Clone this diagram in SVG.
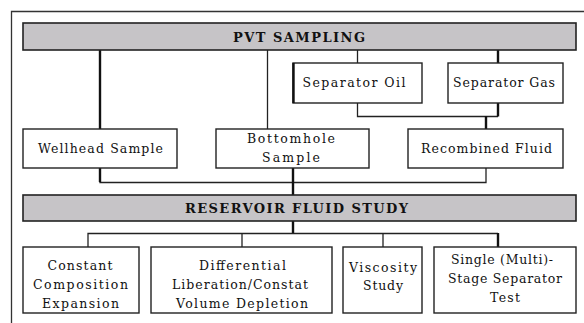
<svg xmlns="http://www.w3.org/2000/svg" width="584" height="323" viewBox="0 0 584 323">
<style>
.box{fill:#fff;stroke:#222;stroke-width:1.4}
.bar{fill:#c6c4c7;stroke:#222;stroke-width:1.6}
.t{font-family:'DejaVu Serif',serif;font-size:12.5px;fill:#111;text-anchor:middle}
.h{font-family:'DejaVu Serif',serif;font-size:13px;font-weight:bold;fill:#111;text-anchor:middle}
.c{fill:none;stroke:#222;stroke-width:1.3}
.k{fill:none;stroke:#111;stroke-width:2.4}
</style>
<rect width="584" height="323" fill="#fff"/>
<path d="M11.5 323V11.5H584" fill="none" stroke="#333" stroke-width="1.3"/>
<g id="connectors">
<path class="k" d="M100 50V129"/>
<path class="c" d="M267.5 50V129"/>
<path class="c" d="M357.5 50V63"/>
<path class="k" d="M498 50V63"/>
<path class="c" d="M357.5 103V116.5H498"/>
<path class="k" d="M498 103V116.5"/>
<path class="k" d="M486 116V129"/>
<path class="c" d="M100 168V182.5H486V168"/>
<path class="k" d="M100 168V182"/>
<path class="k" d="M293 168V195"/>
<path class="k" d="M293 221V234"/>
<path class="c" d="M88 247V233.5H498"/>
<path class="c" d="M242 233.5V247"/>
<path class="c" d="M383 233.5V247"/>
<path class="k" d="M498 233V247"/>
</g>
<g id="pvt-sampling">
<rect class="bar" x="23" y="23" width="553" height="27"/>
<text class="h" x="299" y="41.5" textLength="132" lengthAdjust="spacing">PVT SAMPLING</text>
</g>
<g id="separator-oil">
<rect class="box" x="293" y="63" width="129" height="40"/>
<path d="M293.5 63V103" stroke="#111" stroke-width="2.4"/>
<text class="t" x="354" y="87" textLength="103" lengthAdjust="spacing">Separator Oil</text>
</g>
<g id="separator-gas">
<rect class="box" x="448" y="63" width="115" height="40"/>
<text class="t" x="504" y="87" textLength="102" lengthAdjust="spacing">Separator Gas</text>
</g>
<g id="wellhead-sample">
<rect class="box" x="23" y="129" width="154" height="39"/>
<text class="t" x="100.5" y="153" textLength="125" lengthAdjust="spacing">Wellhead Sample</text>
</g>
<g id="bottomhole-sample">
<rect class="box" x="216" y="129" width="153" height="39"/>
<text class="t" x="291" y="143" textLength="88" lengthAdjust="spacing">Bottomhole</text>
<text class="t" x="291" y="162" textLength="58" lengthAdjust="spacing">Sample</text>
</g>
<g id="recombined-fluid">
<rect class="box" x="408" y="129" width="155" height="39"/>
<text class="t" x="486.5" y="153" textLength="131" lengthAdjust="spacing">Recombined Fluid</text>
</g>
<g id="reservoir-fluid-study">
<rect class="bar" x="23" y="195" width="553" height="26"/>
<text class="h" x="296.5" y="213" textLength="223" lengthAdjust="spacing">RESERVOIR FLUID STUDY</text>
</g>
<g id="constant-composition">
<rect class="box" x="23" y="247" width="116" height="66"/>
<text class="t" x="80" y="270" textLength="65" lengthAdjust="spacing">Constant</text>
<text class="t" x="80.5" y="289" textLength="95" lengthAdjust="spacing">Composition</text>
<text class="t" x="80.5" y="308" textLength="77" lengthAdjust="spacing">Expansion</text>
</g>
<g id="differential-liberation">
<rect class="box" x="151" y="247" width="181" height="66"/>
<text class="t" x="242.5" y="270" textLength="87" lengthAdjust="spacing">Differential</text>
<text class="t" x="240" y="289" textLength="136" lengthAdjust="spacing">Liberation/Constat</text>
<text class="t" x="242" y="308" textLength="132" lengthAdjust="spacing">Volume Depletion</text>
</g>
<g id="viscosity-study">
<rect class="box" x="343" y="247" width="79" height="66"/>
<text class="t" x="383" y="272" textLength="68" lengthAdjust="spacing">Viscosity</text>
<text class="t" x="383" y="290" textLength="40" lengthAdjust="spacing">Study</text>
</g>
<g id="separator-test">
<rect class="box" x="434" y="247" width="142" height="66"/>
<text class="t" x="502" y="264" textLength="102" lengthAdjust="spacing">Single (Multi)-</text>
<text class="t" x="505" y="283" textLength="114" lengthAdjust="spacing">Stage Separator</text>
<text class="t" x="505" y="302" textLength="30" lengthAdjust="spacing">Test</text>
</g>
</svg>
